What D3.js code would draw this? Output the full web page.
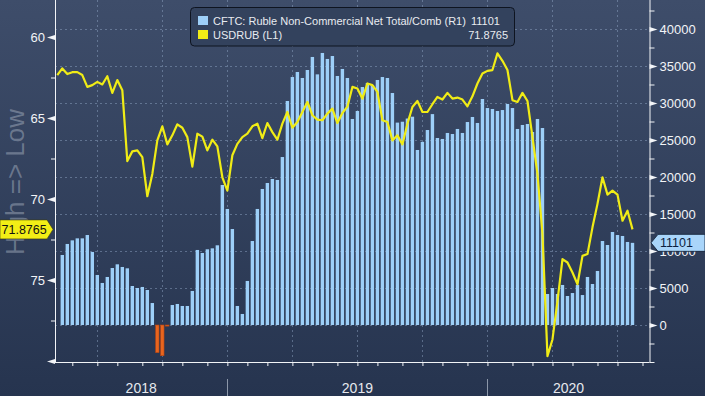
<!DOCTYPE html>
<html>
<head>
<meta charset="utf-8">
<script src="https://cdn.jsdelivr.net/npm/d3@7"></script>
<style>
  body { margin: 0; background: #2b3954; }
  svg { display: block; font-family: "Liberation Sans", Arial, sans-serif; }
</style>
</head>
<body>
<svg id="chart" width="705" height="396"></svg>
<script>
// weekly (Friday) observations, first one on 2018-05-18
let firstWeek = new Date(2018, 4, 18);
let lastWeek = new Date(2020, 6, 24);

// CFTC Ruble non-commercial net positions (R1)
let positions = [
  9460, 10950, 11440, 11710, 11710, 12160, 9870, 6760, 5680, 6490,
  7700, 8200, 7840, 7660, 5270, 5000, 5140, 4730, 2970, -3740,
  -4150, -150, 2700, 2840, 2570, 2570, 4600, 10140, 9730, 10230,
  10360, 10770, 18920, 15680, 12970, 2570, 1490, 5950, 11350, 15680,
  18380, 19190, 19730, 19600, 22700, 30270, 33510, 34190, 33380, 34460,
  36220, 33870, 36760, 35950, 36350, 33650, 34600, 33380, 27840, 28920,
  32160, 32700, 32430, 33110, 33510, 33380, 31350, 27350, 27470, 27900,
  28150, 23650, 24750, 26350, 28500, 25270, 25140, 25950, 25810, 26490,
  25950, 27430, 28110, 27300, 30540, 29320, 29190, 28920, 29050, 29870,
  29320, 26490, 27030, 27160, 26080, 27840, 26620, 4190, 5000, 4190,
  5410, 3920, 4320, 5410, 4050, 6490, 5540, 7300, 11350, 10810,
  12570, 12160, 12030, 11220, 11101
];

// USDRUB (L1), starts one week before the first position
let usdrub = [
  62.35,
  61.94, 62.29, 62.17, 62.17, 62.35, 63.08, 62.97, 62.77, 62.93, 62.42,
  63.45, 62.66, 63.28, 67.66, 67.06, 67.00, 67.41, 69.83, 68.45, 66.38,
  65.51, 66.63, 66.07, 65.39, 65.60, 66.18, 68.00, 65.97, 66.15, 67.00,
  66.34, 66.75, 68.66, 69.48, 67.30, 66.60, 66.18, 65.97, 65.51, 65.35,
  66.24, 65.31, 65.87, 66.34, 65.35, 64.63, 65.60, 65.25, 64.63, 64.01,
  64.83, 65.10, 65.14, 64.73, 64.42, 65.31, 64.69, 64.30, 63.08, 63.18,
  63.80, 62.87, 62.97, 63.39, 65.14, 65.25, 66.38, 66.07, 66.63, 65.35,
  64.32, 63.95, 64.63, 64.63, 64.15, 63.70, 63.86, 63.45, 63.80, 63.74,
  63.86, 64.28, 63.66, 62.87, 62.25, 62.09, 62.04, 61.01, 61.47, 62.04,
  63.90, 64.01, 63.45, 63.95, 66.18, 68.45, 72.16, 79.70, 78.67, 76.30,
  73.71, 73.92, 74.54, 75.26, 73.51, 73.40, 71.75, 70.30, 68.66, 69.73,
  69.48, 69.73, 71.34, 70.72, 71.8765
];

let leftTicks = [60, 65, 70, 75, 80];
let leftMinor = [62.5, 67.5, 72.5, 77.5];
let rightTicks = [0, 5000, 10000, 15000, 20000, 25000, 30000, 35000, 40000];
let rightMinor = [-2500, 2500, 7500, 12500, 17500, 22500, 27500, 32500, 37500, 42500];

let seriesNames = ['CFTC: Ruble Non-Commercial Net Total/Comb (R1)', 'USDRUB (L1)'];
let lastValues = ['11101', '71.8765'];
let colors = {bar: '#9dcff8', neg: '#e8651e', line: '#f0ec16'};

let W = 705, H = 396;
let plot = {left: 55, right: 649.5, top: 0, bottom: 362};

let svg = d3.select('#chart');

let weeks = d3.timeFriday.range(firstWeek, d3.timeDay.offset(lastWeek, 1));
let bars = weeks.map((d, i) => ({date: d, v: positions[i]}));
let linePts = [d3.timeFriday.offset(firstWeek, -1)].concat(weeks)
  .map((d, i) => ({date: d, v: usdrub[i]}));

let x = d3.scaleTime()
  .domain([d3.timeHour.offset(firstWeek, -245), d3.timeHour.offset(lastWeek, 571)])
  .range([plot.left, plot.right]);
let yL = d3.scaleLinear().domain([60, 80]).range([37, 361]);
let yR = d3.scaleLinear().domain([-5000, 40000]).range([362, 29]);

// background
let defs = svg.append('defs');
let grad = defs.append('linearGradient').attr('id', 'bg')
  .attr('x1', 0).attr('y1', 0).attr('x2', 0).attr('y2', 1);
grad.append('stop').attr('offset', '0%').attr('stop-color', '#3e4d6a');
grad.append('stop').attr('offset', '100%').attr('stop-color', '#26344f');
svg.append('rect').attr('width', W).attr('height', H).attr('fill', 'url(#bg)');

// month ticks = first Friday of each month inside the axis
let allFridays = d3.timeFriday.range(x.domain()[0], x.domain()[1]);
let monthTicks = allFridays.filter(d => d3.timeFriday.offset(d, -1).getMonth() !== d.getMonth());
let quarterTicks = monthTicks.filter(d => d.getMonth() % 3 === 0);
let yearTicks = monthTicks.filter(d => d.getMonth() === 0);

// grid
let grid = svg.append('g').attr('stroke', 'rgba(150,172,205,0.45)')
  .attr('stroke-dasharray', '2,3').attr('stroke-width', 1);
grid.selectAll('.h').data(rightTicks).enter().append('line')
  .attr('x1', plot.left).attr('x2', plot.right)
  .attr('y1', d => Math.round(yR(d)) + 0.5).attr('y2', d => Math.round(yR(d)) + 0.5);
grid.selectAll('.v').data(quarterTicks).enter().append('line')
  .attr('x1', d => Math.round(x(d)) + 0.5).attr('x2', d => Math.round(x(d)) + 0.5)
  .attr('y1', plot.top).attr('y2', plot.bottom);

// bars
let bw = 3.4;
svg.append('g').selectAll('rect').data(bars).enter().append('rect')
  .attr('x', d => x(d.date) - bw / 2)
  .attr('y', d => yR(Math.max(0, d.v)))
  .attr('width', bw)
  .attr('height', d => Math.max(1, Math.abs(yR(d.v) - yR(0))))
  .attr('fill', d => d.v < 0 ? colors.neg : colors.bar)
  .attr('stroke', d => d.v < 0 ? '#b9430f' : 'none')
  .attr('stroke-width', 0.6);

// line
let line = d3.line().x(d => x(d.date)).y(d => yL(d.v));
svg.append('path').datum(linePts)
  .attr('d', line)
  .attr('fill', 'none')
  .attr('stroke', colors.line)
  .attr('stroke-width', 2.2)
  .attr('stroke-linejoin', 'round');

// axes
let axisColor = '#f2f4f7';

let gl = svg.append('g').attr('transform', `translate(${plot.left},0)`)
  .call(d3.axisLeft(yL).tickValues(leftTicks).tickSize(0).tickPadding(10));
gl.select('.domain').attr('stroke', axisColor).attr('d', `M0.5,${plot.top}V${plot.bottom}`);
gl.selectAll('text').attr('fill', axisColor).style('font-size', '13px')
  .text(d => d === 80 ? '' : d);
gl.selectAll('.tick').append('path')
  .attr('d', 'M0,-2.5L-8,0L0,2.5Z').attr('fill', axisColor);
svg.append('g').attr('transform', `translate(${plot.left},0)`)
  .call(d3.axisLeft(yL).tickValues(leftMinor).tickSize(4).tickFormat(''))
  .call(g => g.select('.domain').remove())
  .selectAll('line').attr('stroke', axisColor);

let gr = svg.append('g').attr('transform', `translate(${plot.right},0)`)
  .call(d3.axisRight(yR).tickValues(rightTicks).tickSize(0).tickPadding(10)
    .tickFormat(d3.format('d')));
gr.select('.domain').attr('stroke', axisColor).attr('d', `M0.5,${plot.top}V${plot.bottom}`);
gr.selectAll('text').attr('fill', axisColor).style('font-size', '13px');
gr.selectAll('.tick').append('path')
  .attr('d', 'M0,-2.5L8,0L0,2.5Z').attr('fill', axisColor);
svg.append('g').attr('transform', `translate(${plot.right},0)`)
  .call(d3.axisRight(yR).tickValues(rightMinor.concat([-5000])).tickSize(5).tickFormat(''))
  .call(g => g.select('.domain').remove())
  .selectAll('line').attr('stroke', axisColor);

let gb = svg.append('g').attr('transform', `translate(0,${plot.bottom})`)
  .call(d3.axisBottom(x).tickValues(monthTicks).tickSize(4).tickFormat(''));
gb.select('.domain').attr('stroke', axisColor).attr('d', `M${plot.left},0.5H${plot.right}`);
gb.selectAll('line').attr('stroke', axisColor);

// year band
let yearEdges = [plot.left].concat(yearTicks.map(d => x(d)), [plot.right]);
svg.append('g').selectAll('line').data(yearTicks).enter().append('line')
  .attr('x1', d => Math.round(x(d)) + 0.5).attr('x2', d => Math.round(x(d)) + 0.5)
  .attr('y1', 379).attr('y2', H)
  .attr('stroke', '#8c97a9');
svg.append('g').selectAll('text').data(yearEdges.slice(1)).enter().append('text')
  .attr('x', (d, i) => (yearEdges[i] + d) / 2)
  .attr('y', 393)
  .attr('text-anchor', 'middle')
  .attr('fill', '#e6e9ee')
  .style('font-size', '14px')
  .text((d, i) => d3.timeFormat('%Y')(d3.timeYear.offset(yearTicks[0], i - 1)));

// faded axis title
svg.append('text')
  .attr('transform', 'translate(24,182) rotate(-90)')
  .attr('text-anchor', 'middle')
  .attr('fill', 'rgba(175,185,200,0.45)')
  .style('font-size', '26px')
  .text('High => Low');

// legend
let lg = svg.append('g');
lg.append('rect').attr('x', 190.5).attr('y', 7.5).attr('width', 324).attr('height', 38.5)
  .attr('rx', 4).attr('fill', '#33425d').attr('stroke', '#0e1420');
lg.selectAll('.sw').data([colors.bar, colors.line]).enter().append('rect')
  .attr('x', 198).attr('y', (d, i) => 16 + i * 14).attr('width', 10).attr('height', 9)
  .attr('fill', d => d);
lg.selectAll('.nm').data(seriesNames).enter().append('text')
  .attr('x', 213).attr('y', (d, i) => 25 + i * 13.5)
  .attr('fill', '#e8ebf0').style('font-size', '11px').text(d => d);
lg.append('text').attr('x', 471).attr('y', 25)
  .attr('fill', '#e8ebf0').style('font-size', '11px').text(lastValues[0]);
lg.append('text').attr('x', 508).attr('y', 38.5).attr('text-anchor', 'end')
  .attr('fill', '#e8ebf0').style('font-size', '11px').text(lastValues[1]);

// last value tags
let ly = yL(usdrub[usdrub.length - 1]);
svg.append('path')
  .attr('d', `M0,${ly - 9.5}H47L53,${ly}L47,${ly + 9.5}H0Z`)
  .attr('fill', '#f2ee16').attr('stroke', '#3a3a10').attr('stroke-width', 0.6);
svg.append('text').attr('x', 1.5).attr('y', ly + 4.5)
  .attr('fill', '#111').style('font-size', '12.5px').text(lastValues[1]);

let ry = yR(positions[positions.length - 1]);
svg.append('path')
  .attr('d', `M651,${ry}L658,${ry - 8.5}H705V${ry + 8.5}H658Z`)
  .attr('fill', '#a9d5fa').attr('stroke', '#0c1a30').attr('stroke-width', 0.8);
svg.append('text').attr('x', 660).attr('y', ry + 4.5)
  .attr('fill', '#0c1f3f').style('font-size', '12.5px').text(lastValues[0]);
</script>
</body>
</html>
